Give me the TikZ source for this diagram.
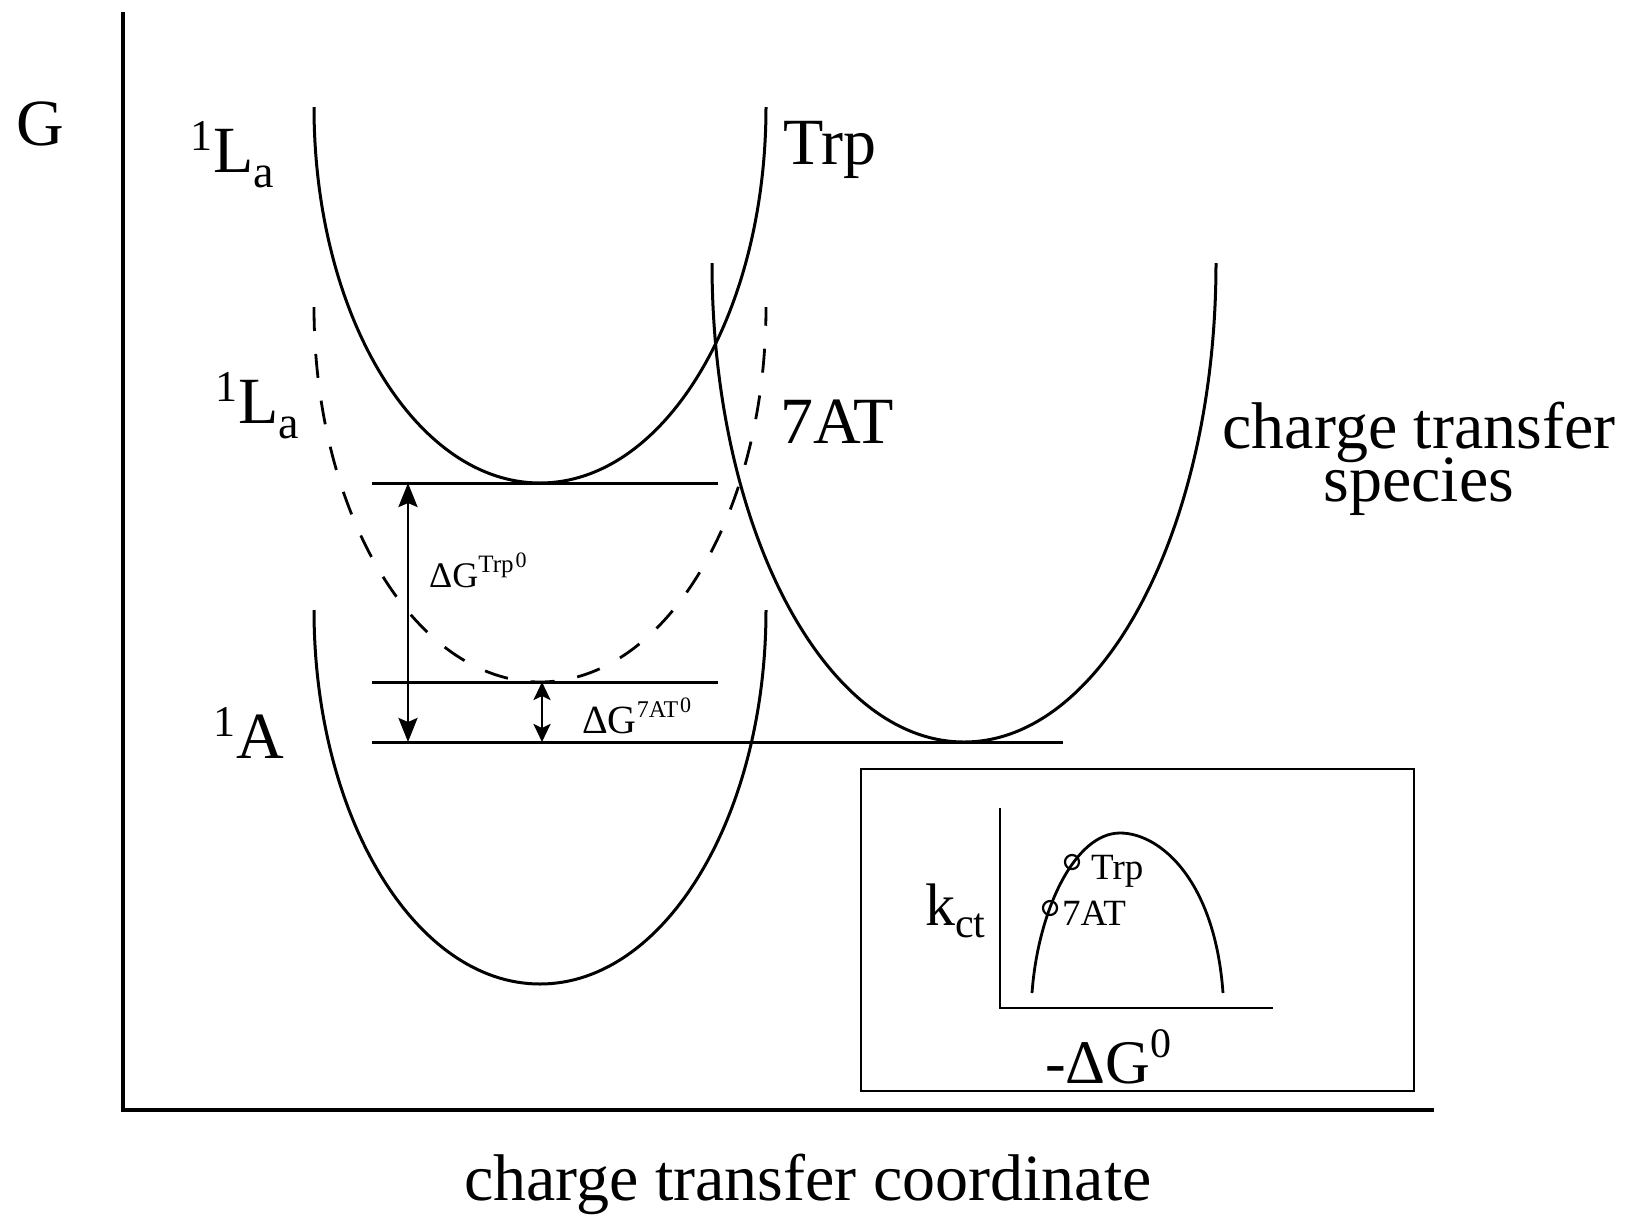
\documentclass[tikz,border=0pt]{standalone}
\usepackage{fontspec}
\setmainfont{Liberation Serif}
\usetikzlibrary{arrows.meta}
\newcommand{\fs}[1]{\fontsize{#1}{#1}\selectfont}
\newcommand{\termsym}[3]{\raisebox{22pt}{\fs{44}#1}\kern1pt#2\raisebox{-15pt}{\fs{46}#3}}
\begin{document}
\begin{tikzpicture}[x=1pt,y=1pt,
  curve/.style={line width=3pt},
  axisline/.style={line width=3.6pt, line join=miter},
  levelline/.style={line width=3pt},
  dashcurve/.style={line width=2.8pt, dash pattern=on 24pt off 23pt},
  bigtip/.tip={Stealth[length=24pt,width=19pt,inset=4pt]},
  smalltip/.tip={Stealth[length=18pt,width=17pt,inset=4pt]},
  biglabel/.style={font=\fs{66}, inner sep=0pt, anchor=base west},
  midlabel/.style={inner sep=0pt, anchor=base west},
  insetline/.style={line width=2.8pt}
]
\useasboundingbox (0,0) rectangle (1634,-1221);
\fill[white] (0,0) rectangle (1634,-1221);

% axes
\coordinate (ytop) at (123,-12);
\coordinate (orig) at (123,-1110);
\coordinate (xend) at (1434,-1110);
\draw[axisline] (ytop) -- (orig) -- (xend);

% potential curves (half ellipses)
\draw[curve] (314,-107) arc[start angle=180,end angle=360,x radius=226,y radius=376];
\draw[dashcurve] (314,-307) arc[start angle=180,end angle=360,x radius=226,y radius=375];
\draw[curve] (314,-610) arc[start angle=180,end angle=360,x radius=226,y radius=374];
\draw[curve] (712,-263) arc[start angle=180,end angle=360,x radius=252,y radius=479];

% level lines
\coordinate (t1) at (372,-483); \coordinate (t2) at (718,-483);
\coordinate (s1) at (372,-682); \coordinate (s2) at (718,-682);
\coordinate (c1) at (372,-742); \coordinate (c2) at (1063,-742);
\draw[levelline] (t1) -- (t2);
\draw[levelline] (s1) -- (s2);
\draw[levelline] (c1) -- (c2);

% energy gap arrows
\coordinate (aT) at (408,-483); \coordinate (aB) at (408,-742);
\coordinate (bT) at (542,-682); \coordinate (bB) at (542,-742);
\draw[line width=2.8pt, bigtip-bigtip] (aT) -- (aB);
\draw[line width=2.8pt, smalltip-smalltip] (bT) -- (bB);

% labels
\node[biglabel] (G) at (16,-145) {G};
\node[biglabel] (La1) at (190,-172) {\termsym{1}{L}{a}};
\node[biglabel] (Trp) at (783,-164) {Trp};
\node[biglabel] (La2) at (215,-423) {\termsym{1}{L}{a}};
\node[biglabel] (AT7) at (780,-443) {7AT};
\node[biglabel] (A1) at (213,-758) {\raisebox{22pt}{\fs{44}1}\kern1pt A};
\node[inner sep=0pt, anchor=north, align=center,
      font={\fontsize{66}{53}\selectfont\lineskiplimit=-200pt}] (ct) at (1419,-402)
      {charge transfer\\species};
\node[biglabel, anchor=base] (coord) at (808,-1200) {charge transfer coordinate};

\node[midlabel] (dGTrp) at (429,-587)
  {\fs{36}ΔG\raisebox{15pt}{\fs{25}Trp\kern2pt\raisebox{5pt}{\fs{22}0}}};
\node[midlabel] (dG7AT) at (582,-733)
  {\fs{40}ΔG\raisebox{16pt}{\fs{24}7AT\kern2pt\raisebox{5pt}{\fs{22}0}}};

% inset
\coordinate (bx1) at (861,-769); \coordinate (bx2) at (1414,-1091);
\draw[insetline] (bx1) rectangle (bx2);
\coordinate (iy) at (1000,-808); \coordinate (io) at (1000,-1008); \coordinate (ix) at (1273,-1008);
\draw[insetline] (iy) -- (io) -- (ix);
\coordinate (f1) at (1032,-993); \coordinate (pk) at (1120,-833); \coordinate (f2) at (1223,-993);
\draw[insetline] (f1) .. controls (1038,-910) and (1075,-833) .. (pk)
  .. controls (1160,-833) and (1215,-880) .. (f2);
\draw[line width=2.2pt] (1072,-862) circle[radius=7];
\draw[line width=2.2pt] (1050,-908) circle[radius=7];
\node[midlabel] (iTrp) at (1091,-879) {\fs{37}Trp};
\node[midlabel] (i7AT) at (1062,-925) {\fs{37}7AT};
\node[midlabel] (kct) at (925,-925) {\fs{60}k\raisebox{-12pt}{\fs{42}ct}};
\node[midlabel] (mdG) at (1045,-1083) {\fs{62}-ΔG\raisebox{26pt}{\fs{42}0}};
\end{tikzpicture}
\end{document}
